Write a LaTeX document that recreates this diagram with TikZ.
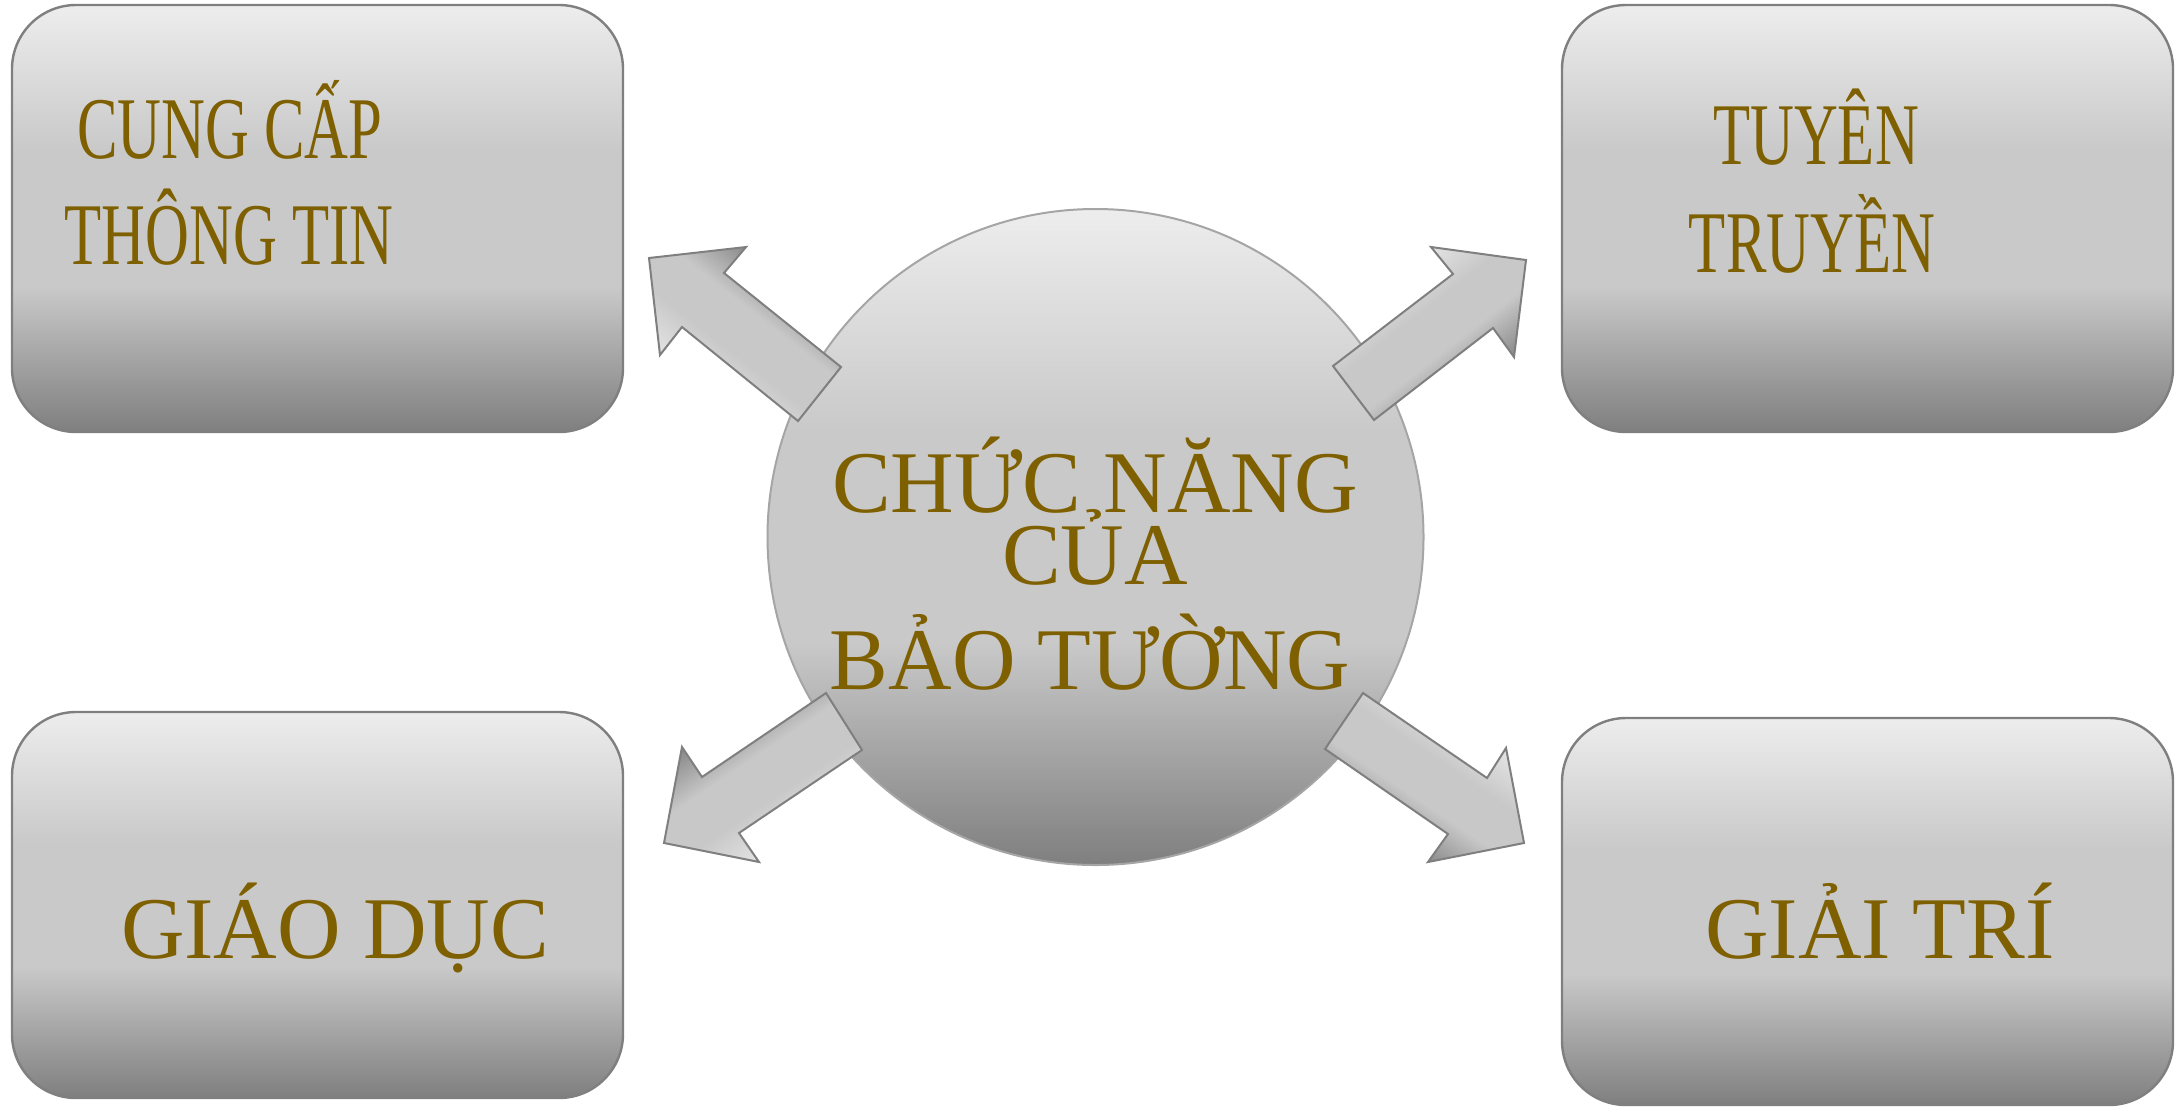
\documentclass[tikz,border=0pt]{standalone}
\usepackage{fontspec}
\setmainfont{Liberation Serif}
\newfontfamily\condfont[FakeStretch=0.69]{Liberation Serif}
\definecolor{txt}{HTML}{7F6000}
\definecolor{bxT}{HTML}{EDEDED}
\definecolor{bxM}{HTML}{C9C9C9}
\definecolor{bxB}{HTML}{7F7F7F}
\definecolor{arL}{HTML}{E6E6E6}
\definecolor{arM}{HTML}{C8C8C8}
\definecolor{arD}{HTML}{858585}
\definecolor{edge}{HTML}{7F7F7F}
\definecolor{cedge}{HTML}{A5A5A5}
\pgfdeclareverticalshading{boxshade}{100bp}{color(0bp)=(bxB); color(25bp)=(bxB); color(42bp)=(bxM); color(58bp)=(bxM); color(75bp)=(bxT); color(100bp)=(bxT)}
\pgfdeclareverticalshading{arrowshade}{100bp}{color(0bp)=(arL); color(30bp)=(arL); color(44bp)=(arM); color(56bp)=(arM); color(70bp)=(arD); color(100bp)=(arD)}
\tikzset{
  boxstyle/.style={draw=edge, line width=1.2pt, rounded corners=32pt, shading=boxshade},
  circstyle/.style={circle, draw=cedge, line width=1pt, shading=boxshade, minimum size=328pt, inner sep=0pt},
  blockarrow/.style={draw=edge, line width=1pt, line join=miter, shading=arrowshade},
  lbl/.style={anchor=base, inner sep=0pt, text=txt, font=\fontsize{44}{50}\selectfont},
  clbl/.style={anchor=base, inner sep=0pt, text=txt, font=\condfont\fontsize{44}{50}\selectfont}
}
\begin{document}
\begin{tikzpicture}[x=0.5pt, y=-0.5pt]
\useasboundingbox (0,0) rectangle (2177,1110);
% boxes
\draw[boxstyle] (12,5) rectangle (623,432);
\draw[boxstyle] (1562,5) rectangle (2173,432);
\draw[boxstyle] (12,712) rectangle (623,1098);
\draw[boxstyle] (1562,718) rectangle (2173,1105);
% centre circle
\node[circstyle] (c) at (1095.5,537) {};
% block arrows
\draw[blockarrow, shading angle=-38] (649,258) -- (746,247) -- (724,273) -- (841,367) -- (798,421) -- (682,327) -- (660,355) -- cycle;
\draw[blockarrow, shading angle=-142] (1431,247) -- (1526,260) -- (1514,357) -- (1493,328) -- (1374,420) -- (1333,366) -- (1453,274) -- cycle;
\draw[blockarrow, shading angle=34] (826,693) -- (862,750) -- (739,833) -- (759,862) -- (664,843) -- (682,747) -- (702,777) -- cycle;
\draw[blockarrow, shading angle=146] (1363,693) -- (1325,749) -- (1448,834) -- (1428,862) -- (1524,843) -- (1506,748) -- (1487,778) -- cycle;
% texts
\node[clbl] (t1a) at (230,158) {CUNG C^^^^1ea4P};
\node[clbl] (t1b) at (229,264) {TH^^^^00d4NG TIN};
\node[clbl] (t2a) at (1816,164) {TUY^^^^00caN};
\node[clbl] (t2b) at (1812,272) {TRUY^^^^1ec0N};
\node[lbl] (c1) at (1095,512) {CH^^^^1ee8C N^^^^0102NG};
\node[lbl] (c2) at (1095,584) {C^^^^1ee6A};
\node[lbl] (c3) at (1090,689) {B^^^^1ea2O T^^^^01af^^^^1edcNG};
\node[lbl] (t3) at (335,958) {GI^^^^00c1O D^^^^1ee4C};
\node[lbl] (t4) at (1880,958) {GI^^^^1ea2I TR^^^^00cd};
\end{tikzpicture}
\end{document}
